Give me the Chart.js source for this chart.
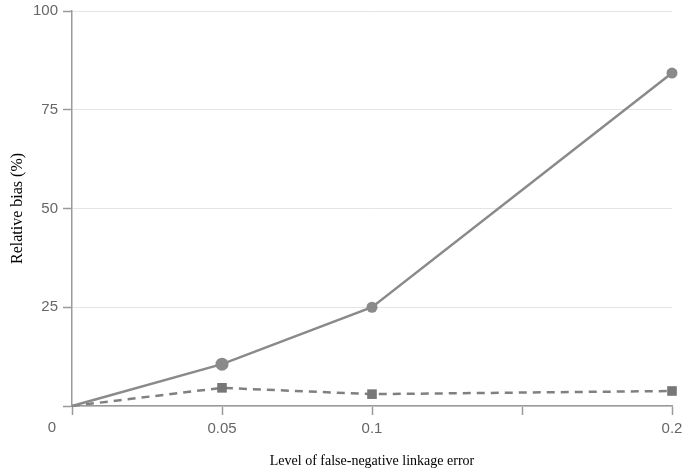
<!DOCTYPE html>
<html><head><meta charset="utf-8">
<script src="https://cdn.jsdelivr.net/npm/chart.js@4/dist/chart.umd.min.js"></script>
<style>html,body{margin:0;padding:0;background:#fff;}canvas{display:block;}</style>
</head><body>
<canvas id="c" width="682" height="470"></canvas>
<script>
const errorLevels = [0, 0.05, 0.1, 0.2];
const biasCircle = [0, 10.6, 25.0, 84.3];
const biasSquare = [0, 4.6, 3.0, 3.8];
const yTicks = [0, 25, 50, 75, 100];
const xTickLabels = {0.05: '0.05', 0.1: '0.1', 0.2: '0.2'};
const xTitle = 'Level of false-negative linkage error';
const yTitle = 'Relative bias (%)';

const toXY = (vals) => errorLevels.map((x, i) => ({x: x, y: vals[i]}));

const zeroLabel = {
  id: 'zeroLabel',
  afterDraw(chart) {
    const ctx = chart.ctx;
    const xs = chart.scales.x, ys = chart.scales.y;
    ctx.save();
    ctx.font = '15px "Liberation Sans", Arial, sans-serif';
    ctx.fillStyle = '#666';
    ctx.textAlign = 'center';
    ctx.textBaseline = 'middle';
    ctx.fillText('0', xs.getPixelForValue(0) - 20, ys.getPixelForValue(0) + 22);
    ctx.restore();
  }
};

new Chart(document.getElementById('c'), {
  type: 'line',
  data: {
    datasets: [
      {
        data: toXY(biasCircle),
        borderColor: '#8a8a8a',
        backgroundColor: '#8a8a8a',
        borderWidth: 2.5,
        pointStyle: 'circle',
        pointRadius: [0, 6.5, 5.5, 5.5],
        pointBorderWidth: 0,
        tension: 0,
        clip: false
      },
      {
        data: toXY(biasSquare),
        borderColor: '#808080',
        backgroundColor: '#777777',
        borderWidth: 2.5,
        borderDash: [8, 6],
        pointStyle: 'rect',
        pointRadius: [0, 6.8, 6.8, 6.8],
        pointBorderWidth: 0,
        tension: 0,
        clip: false
      }
    ]
  },
  options: {
    responsive: false,
    animation: false,
    layout: {padding: {top: 11, right: 10, left: 0, bottom: 0}},
    plugins: {legend: {display: false}, tooltip: {enabled: false}},
    scales: {
      x: {
        type: 'linear',
        min: 0, max: 0.2,
        afterBuildTicks: (s) => { s.ticks = [0, 0.05, 0.1, 0.15, 0.2].map(v => ({value: v})); },
        afterFit: (s) => { s.height = 64; s.paddingLeft = 0; s.paddingRight = 0; },
        border: {color: '#9a9a9a', width: 1.5},
        grid: {drawOnChartArea: false, drawTicks: true, tickLength: 9, tickColor: '#9a9a9a', tickWidth: 1.5},
        ticks: {
          color: '#666',
          font: {family: '"Liberation Sans", Arial, sans-serif', size: 15},
          padding: 5,
          maxRotation: 0,
          autoSkip: false,
          callback: (v) => xTickLabels[Math.round(v * 100) / 100] || ''
        },
        title: {
          display: true, text: xTitle, color: '#000',
          font: {family: '"Liberation Serif", "Times New Roman", serif', size: 14},
          padding: {top: 0, bottom: 0}
        }
      },
      y: {
        min: 0, max: 100,
        afterBuildTicks: (s) => { s.ticks = yTicks.map(v => ({value: v})); },
        afterFit: (s) => { s.width = 72; s.paddingTop = 0; s.paddingBottom = 0; },
        border: {color: '#9a9a9a', width: 1.5},
        grid: {color: '#e4e4e4', lineWidth: 1, drawTicks: true, tickLength: 9, tickColor: '#9a9a9a', tickWidth: 1.5},
        ticks: {
          color: '#666',
          font: {family: '"Liberation Sans", Arial, sans-serif', size: 15},
          padding: 5,
          callback: (v) => v === 0 ? '' : String(v)
        },
        title: {
          display: true, text: yTitle, color: '#000',
          font: {family: '"Liberation Serif", "Times New Roman", serif', size: 16},
          padding: {top: 8, bottom: 0}
        }
      }
    }
  },
  plugins: [zeroLabel]
});
</script>
</body></html>
